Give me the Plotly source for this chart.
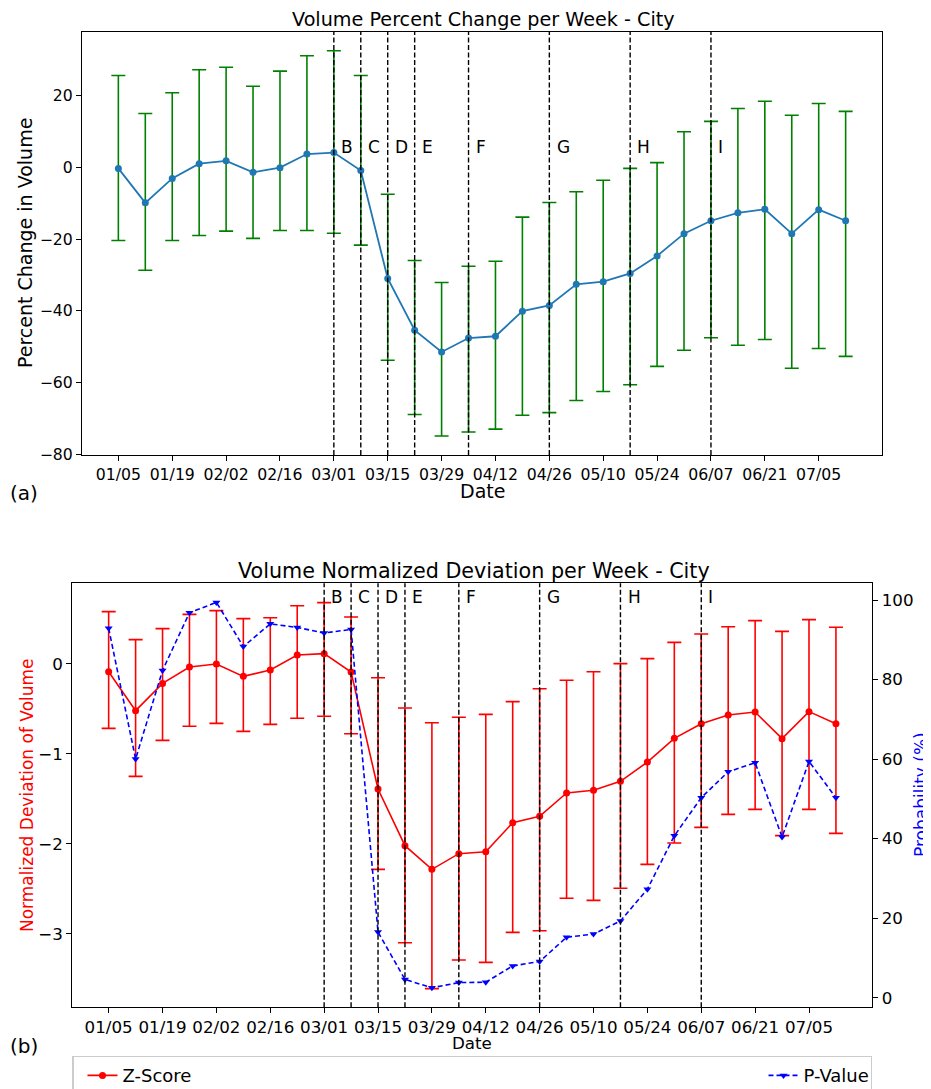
import pandas as pd
import plotly.graph_objects as go

# ---------------- data ----------------
weeks = ["2020-01-05", "2020-01-12", "2020-01-19", "2020-01-26", "2020-02-02", "2020-02-09",
         "2020-02-16", "2020-02-23", "2020-03-01", "2020-03-08", "2020-03-15", "2020-03-22",
         "2020-03-29", "2020-04-05", "2020-04-12", "2020-04-19", "2020-04-26", "2020-05-03",
         "2020-05-10", "2020-05-17", "2020-05-24", "2020-05-31", "2020-06-07", "2020-06-14",
         "2020-06-21", "2020-06-28", "2020-07-05", "2020-07-12"]

pct_change = [-0.3, -9.9, -3.1, 1.0, 1.8, -1.4, -0.1, 3.7, 4.1, -0.9, -31.0, -45.4, -51.5, -47.6,
              -47.1, -40.1, -38.5, -32.6, -31.9, -29.6, -24.7, -18.5, -14.9, -12.7, -11.7, -18.5,
              -11.8, -14.9]
pct_upper = [25.6, 15.0, 20.8, 27.2, 27.9, 22.6, 26.8, 31.1, 32.5, 25.6, -7.5, -26.0, -32.1, -27.6,
             -26.2, -13.9, -9.8, -6.8, -3.6, -0.3, 1.3, 9.9, 12.8, 16.4, 18.4, 14.5, 17.8, 15.6]
pct_lower = [-20.4, -28.7, -20.4, -19.0, -17.8, -19.8, -17.6, -17.6, -18.4, -21.7, -53.8, -68.9,
             -74.9, -73.8, -73.0, -69.1, -68.4, -65.0, -62.5, -60.6, -55.5, -51.0, -47.5, -49.6,
             -48.0, -56.0, -50.5, -52.7]

z_score = [-0.089, -0.522, -0.219, -0.037, -0.004, -0.141, -0.070, 0.096, 0.111, -0.093, -1.393,
           -2.022, -2.285, -2.111, -2.089, -1.767, -1.696, -1.437, -1.407, -1.307, -1.093, -0.830,
           -0.667, -0.570, -0.537, -0.833, -0.533, -0.667]
z_upper = [0.578, 0.267, 0.389, 0.548, 0.589, 0.500, 0.511, 0.644, 0.678, 0.519, -0.156, -0.493,
           -0.656, -0.596, -0.563, -0.422, -0.278, -0.185, -0.089, 0.000, 0.056, 0.237, 0.330,
           0.411, 0.478, 0.359, 0.489, 0.404]
z_lower = [-0.719, -1.252, -0.852, -0.696, -0.663, -0.752, -0.674, -0.607, -0.585, -0.778, -2.285,
           -3.100, -3.611, -3.293, -3.319, -2.985, -2.967, -2.607, -2.630, -2.496, -2.230, -1.993,
           -1.819, -1.674, -1.619, -1.911, -1.619, -1.885]
p_value = [92.9, 60.0, 82.3, 96.8, 99.4, 88.3, 94.0, 93.1, 91.7, 92.6, 16.5, 4.6, 2.5, 3.8, 3.9,
           8.0, 9.1, 15.2, 16.0, 19.3, 27.3, 40.7, 50.3, 56.8, 59.1, 40.4, 59.4, 50.3]

tick_dates = ["2020-01-05", "2020-01-19", "2020-02-02", "2020-02-16", "2020-03-01", "2020-03-15",
              "2020-03-29", "2020-04-12", "2020-04-26", "2020-05-10", "2020-05-24", "2020-06-07",
              "2020-06-21", "2020-07-05"]
tick_labels = ["01/05", "01/19", "02/02", "02/16", "03/01", "03/15", "03/29", "04/12", "04/26",
               "05/10", "05/24", "06/07", "06/21", "07/05"]

event_dates = ["2020-03-01", "2020-03-08", "2020-03-15", "2020-03-22", "2020-04-05", "2020-04-26",
               "2020-05-17", "2020-06-07"]
event_labels = ["B", "C", "D", "E", "F", "G", "H", "I"]

# ---------------- helpers ----------------
OFF = 8  # default body margin of the html page
W, H = 931 - OFF, 1089 - OFF
FONT = "DejaVu Sans"
px = lambda v: (v - OFF) / W
py = lambda v: 1 - (v - OFF) / H

t0 = pd.Timestamp(weeks[0])
t1 = pd.Timestamp(weeks[-1])
pad = (t1 - t0) * 0.05
xrange_ = [str(t0 - pad), str(t1 + pad)]

pct_plus = [u - c for u, c in zip(pct_upper, pct_change)]
pct_minus = [c - l for c, l in zip(pct_change, pct_lower)]
z_plus = [u - c for u, c in zip(z_upper, z_score)]
z_minus = [c - l for c, l in zip(z_score, z_lower)]

fig = go.Figure()

# top panel
fig.add_trace(go.Scatter(
    x=weeks, y=pct_change, mode="lines+markers", xaxis="x", yaxis="y",
    line=dict(color="#1f77b4", width=1.8), marker=dict(color="#1f77b4", size=7),
    error_y=dict(type="data", symmetric=False, array=pct_plus, arrayminus=pct_minus,
                 color="green", thickness=1.6, width=7),
    showlegend=False))

# bottom panel
fig.add_trace(go.Scatter(
    x=weeks, y=z_score, mode="lines+markers", name="Z-Score", xaxis="x2", yaxis="y2",
    line=dict(color="red", width=1.6), marker=dict(color="red", size=7),
    error_y=dict(type="data", symmetric=False, array=z_plus, arrayminus=z_minus,
                 color="red", thickness=1.6, width=7),
    legendwidth=627))
fig.add_trace(go.Scatter(
    x=weeks, y=p_value, mode="lines+markers", name="P-Value", xaxis="x2", yaxis="y3",
    line=dict(color="blue", width=1.6, dash="5px,3px"),
    marker=dict(color="blue", size=7, symbol="triangle-down"),
    legendwidth=62))

shapes = []
annotations = []
for d, lab in zip(event_dates, event_labels):
    for xr, yr, ylab in (("x", "y", 5.75), ("x2", "y2", 0.745)):
        shapes.append(dict(type="line", xref=xr, yref=yr + " domain", x0=d, x1=d, y0=0, y1=1,
                           line=dict(color="black", width=1.4, dash="5px,2.5px")))
        annotations.append(dict(text=lab, xref=xr, yref=yr,
                                x=str(pd.Timestamp(d) + pd.Timedelta(days=1.6)), y=ylab,
                                xanchor="left", yanchor="middle", showarrow=False, borderpad=0,
                                font=dict(family=FONT, size=17, color="black")))

def ann(text, x, y, size, color="black", angle=0):
    annotations.append(dict(text=text, xref="paper", yref="paper", x=px(x), y=py(y),
                            xanchor="center", yanchor="middle", showarrow=False, textangle=angle,
                            font=dict(family=FONT, size=size, color=color)))

ann("Volume Percent Change per Week - City", 483, 19, 19.2)
ann("Date", 482, 491, 19)
ann("Percent Change in Volume", 25, 243, 19, angle=-90)
ann("(a)", 24, 493, 20)
ann("Volume Normalized Deviation per Week - City", 474, 571, 20.7)
ann("Date", 472, 1043, 16.7)
ann("Normalized Deviation of Volume", 27, 795, 17, color="red", angle=-90)
ann("Probability (%)", 921, 795, 17, color="blue", angle=-90)
ann("(b)", 24, 1046, 20)

axis_common = dict(showline=True, linecolor="black", linewidth=1.2, ticks="outside", ticklen=5,
                   tickwidth=1.2, tickcolor="black", showgrid=False, zeroline=False)

fig.update_layout(
    width=W, height=H, autosize=False,
    margin=dict(l=0, r=0, t=0, b=0, autoexpand=False),
    paper_bgcolor="white", plot_bgcolor="white",
    font=dict(family=FONT, color="black"),
    xaxis=dict(**axis_common, domain=[px(82), px(882)], anchor="y", mirror=True, type="date",
               range=xrange_, tickvals=tick_dates, ticktext=tick_labels,
               tickfont=dict(size=15.7, family=FONT)),
    yaxis=dict(**axis_common, domain=[py(455), py(31.7)], anchor="x", mirror=True,
               range=[-80.2, 37.8], tickvals=[-80, -60, -40, -20, 0, 20],
               tickfont=dict(size=15.7, family=FONT)),
    xaxis2=dict(**axis_common, domain=[px(72.3), px(872.3)], anchor="y2", mirror=True,
                type="date", range=xrange_, tickvals=tick_dates, ticktext=tick_labels,
                tickfont=dict(size=16.7, family=FONT)),
    yaxis2=dict(**axis_common, domain=[py(1007.3), py(583.3)], anchor="x2",
                range=[-3.818, 0.893], tickvals=[-3, -2, -1, 0],
                tickfont=dict(size=16.7, family=FONT)),
    yaxis3=dict(**axis_common, overlaying="y2", side="right", anchor="x2",
                range=[-2.41, 104.2], tickvals=[0, 20, 40, 60, 80, 100],
                tickfont=dict(size=16.7, family=FONT)),
    legend=dict(orientation="h", x=px(72.3), y=py(1056), xanchor="left", yanchor="top",
                bordercolor="#cccccc", borderwidth=1.2, bgcolor="white", indentation=9,
                font=dict(family=FONT, size=18), entrywidthmode="pixels"),
    shapes=shapes,
    annotations=annotations,
)

fig.write_html("out.html")
